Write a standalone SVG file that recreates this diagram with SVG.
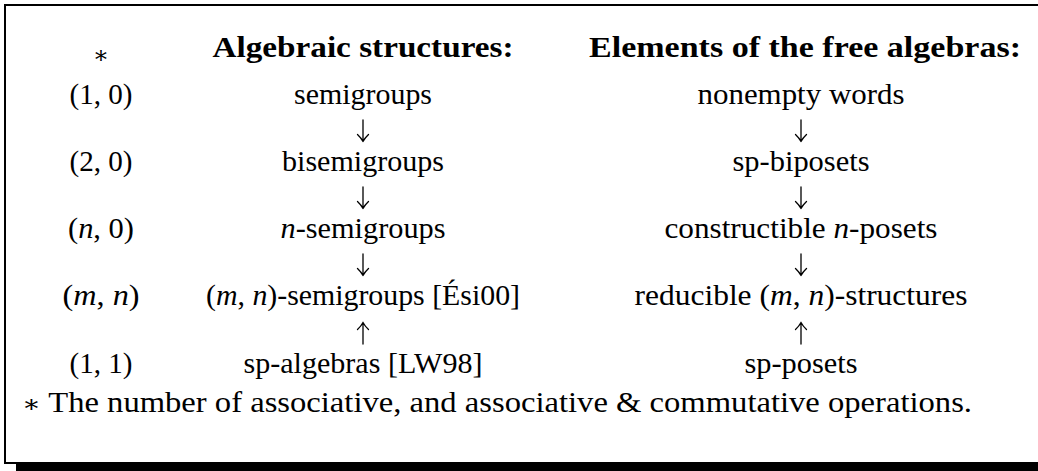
<svg xmlns="http://www.w3.org/2000/svg" width="1038" height="471" viewBox="0 0 1038 471">
<style>
text{font-family:"Liberation Serif","DejaVu Serif",serif;font-size:28.5px;fill:#000;text-anchor:middle}
.b{font-weight:bold}
.i{font-style:italic}
.st{font-family:"DejaVu Serif",serif;font-size:24px}
.l{text-anchor:start}
.arr{fill:none;stroke:#000;stroke-width:1.3;stroke-linecap:round}
</style>
<defs>
<path id="down" d="M0,-11 V10.5 M-5.5,3.5 Q-1.8,7 0,10.5 M5.5,3.5 Q1.8,7 0,10.5"/>
<path id="up" d="M0,11 V-10.5 M-5.5,-3.5 Q-1.8,-7 0,-10.5 M5.5,-3.5 Q1.8,-7 0,-10.5"/>
</defs>
<rect width="1038" height="471" fill="#fff"/>
<g id="frame" fill="#000">
<rect x="4" y="4" width="1034" height="2"/>
<rect x="4" y="4" width="2" height="460"/>
<rect x="4" y="462" width="1034" height="2"/>
<rect x="16" y="462" width="1022" height="9"/>
</g>
<g id="headers">
<text class="st" x="101" y="63">∗</text>
<text class="b" x="363" y="57" textLength="301" lengthAdjust="spacingAndGlyphs">Algebraic structures:</text>
<text class="b" x="805" y="57" textLength="432" lengthAdjust="spacingAndGlyphs">Elements of the free algebras:</text>
</g>
<g id="col1">
<text x="101" y="104" textLength="63" lengthAdjust="spacingAndGlyphs">(1, 0)</text>
<text x="101" y="171" textLength="63" lengthAdjust="spacingAndGlyphs">(2, 0)</text>
<text x="101" y="238" textLength="66" lengthAdjust="spacingAndGlyphs">(<tspan class="i">n</tspan>, 0)</text>
<text x="101" y="305" textLength="77" lengthAdjust="spacingAndGlyphs">(<tspan class="i">m</tspan>, <tspan class="i">n</tspan>)</text>
<text x="101" y="373" textLength="63" lengthAdjust="spacingAndGlyphs">(1, 1)</text>
</g>
<g id="n-semigroups"><text x="363" y="104" textLength="138" lengthAdjust="spacingAndGlyphs">semigroups</text></g>
<g id="n-bisemigroups"><text x="363" y="171" textLength="162" lengthAdjust="spacingAndGlyphs">bisemigroups</text></g>
<g id="n-nsemigroups"><text x="363" y="238" textLength="165" lengthAdjust="spacingAndGlyphs"><tspan class="i">n</tspan>-semigroups</text></g>
<g id="n-mnsemigroups"><text x="363" y="305" textLength="314" lengthAdjust="spacingAndGlyphs">(<tspan class="i">m</tspan>, <tspan class="i">n</tspan>)-semigroups [Ési00]</text></g>
<g id="n-spalgebras"><text x="363" y="373" textLength="239" lengthAdjust="spacingAndGlyphs">sp-algebras [LW98]</text></g>
<g id="n-words"><text x="801" y="104" textLength="207" lengthAdjust="spacingAndGlyphs">nonempty words</text></g>
<g id="n-biposets"><text x="801" y="171" textLength="137" lengthAdjust="spacingAndGlyphs">sp-biposets</text></g>
<g id="n-nposets"><text x="801" y="238" textLength="273" lengthAdjust="spacingAndGlyphs">constructible <tspan class="i">n</tspan>-posets</text></g>
<g id="n-reducible"><text x="801" y="305" textLength="333" lengthAdjust="spacingAndGlyphs">reducible (<tspan class="i">m</tspan>, <tspan class="i">n</tspan>)-structures</text></g>
<g id="n-spposets"><text x="801" y="373" textLength="113" lengthAdjust="spacingAndGlyphs">sp-posets</text></g>
<g id="connectors" class="arr">
<use href="#down" x="363" y="131"/>
<use href="#down" x="363" y="198"/>
<use href="#down" x="363" y="265"/>
<use href="#up" x="363" y="333"/>
<use href="#down" x="801" y="131"/>
<use href="#down" x="801" y="198"/>
<use href="#down" x="801" y="265"/>
<use href="#up" x="801" y="333"/>
</g>
<g id="footer">
<text class="l" x="22" y="412" textLength="950" lengthAdjust="spacingAndGlyphs"><tspan class="st">∗</tspan> The number of associative, and associative &amp; commutative operations.</text>
</g>
</svg>
